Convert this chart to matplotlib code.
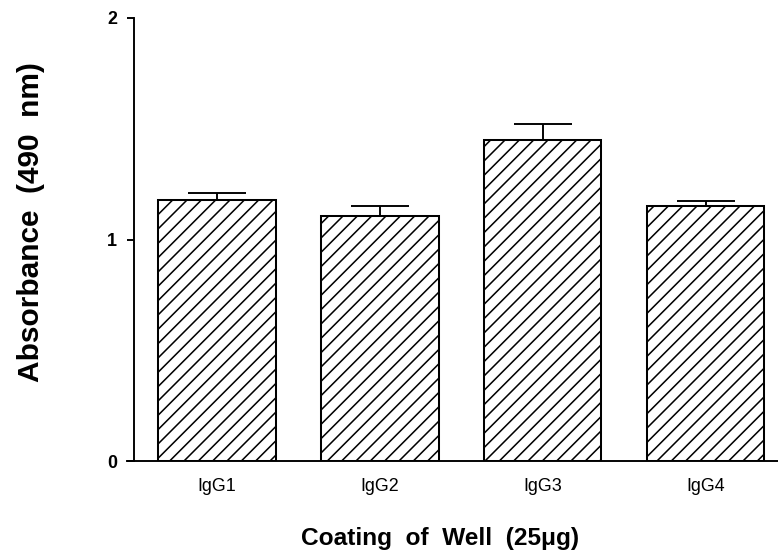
import numpy as np
import matplotlib
matplotlib.use("Agg")
import matplotlib.pyplot as plt

# bar data
groups = ["IgG1", "IgG2", "IgG3", "IgG4"]
absorbance = [1.18, 1.105, 1.45, 1.15]
err_up = [0.032, 0.047, 0.072, 0.026]

# dpi 86 so that the hatch spacing matches the scan
DPI = 86
plt.rcParams["font.family"] = ["Liberation Sans", "DejaVu Sans"]
plt.rcParams["hatch.linewidth"] = 1.3
plt.rcParams["hatch.color"] = "black"

fig = plt.figure(figsize=(779 / DPI, 551 / DPI), dpi=DPI)
ax = fig.add_axes([134 / 779, 1 - 461 / 551, 1 - 134 / 779, (461 - 18) / 551])

x = np.arange(len(groups))
ax.bar(x, absorbance, width=0.72, color="white", edgecolor="black",
       linewidth=1.7, hatch="//", zorder=2)
ax.errorbar(x, absorbance, yerr=[np.zeros(len(x)), err_up], fmt="none",
            ecolor="black", elinewidth=1.6, capsize=24.5, capthick=1.6, zorder=3)

ax.set_xlim(-0.51, 3.45)
ax.set_ylim(0, 2)
ax.set_yticks([0, 1, 2])
ax.set_yticklabels(["0", "1", "2"], fontsize=15, fontweight="bold")
ax.set_xticks(x)
ax.set_xticklabels(groups, fontsize=15)
ax.tick_params(axis="x", length=0, pad=14)
ax.tick_params(axis="y", direction="out", length=6, width=1.6, pad=8)

for s in ["top", "right"]:
    ax.spines[s].set_visible(False)
ax.spines["left"].set_linewidth(1.6)
ax.spines["bottom"].set_linewidth(1.6)
ax.spines["bottom"].set_bounds(-0.55, 3.45)

fig.text(31 / 779, 1 - 222 / 551, "Absorbance  (490  nm)", rotation=90,
         ha="center", va="center", fontsize=25, fontweight="bold")
fig.text(440 / 779, 1 - 539 / 551, "Coating  of  Well  (25\u03bcg)",
         ha="center", va="center", fontsize=20.5, fontweight="bold")

fig.savefig("out.png", dpi=DPI)
